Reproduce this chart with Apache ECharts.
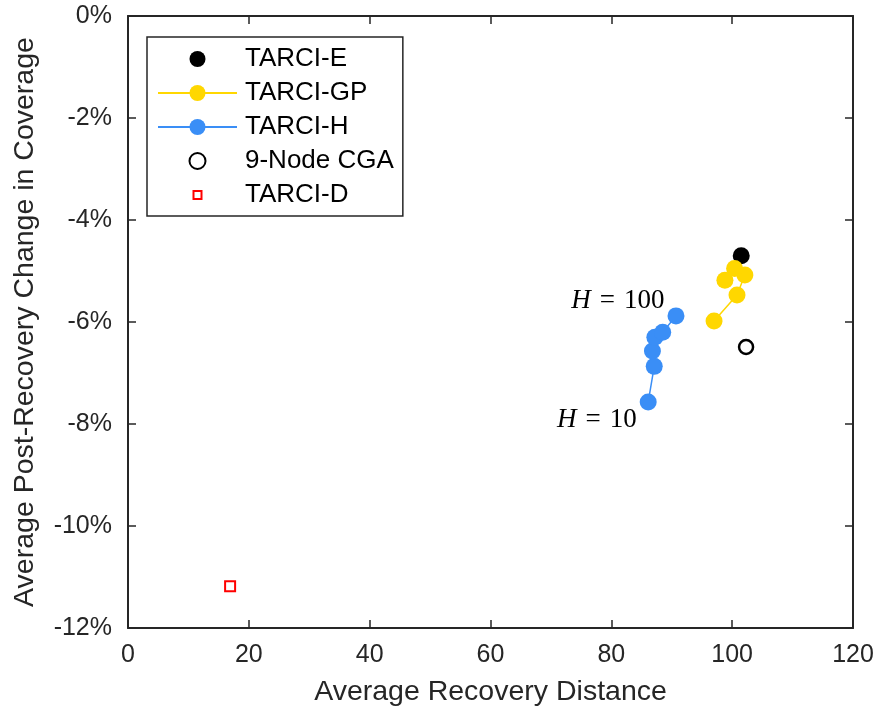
<!DOCTYPE html>
<html>
<head>
<meta charset="utf-8">
<script src="https://cdn.jsdelivr.net/npm/echarts@6/dist/echarts.min.js"></script>
<style>
  html, body { margin: 0; padding: 0; background: #fff; }
  #chart { width: 878px; height: 713px; }
</style>
</head>
<body>
<div id="chart"></div>
<script>
// points are [recovery distance, coverage change %]
const tarciE = [[101.5, -4.7]]
const tarciGP = [[97.0, -5.98], [100.8, -5.47], [102.1, -5.08], [100.4, -4.95], [98.8, -5.18]]
const tarciH = [[86.1, -7.57], [87.1, -6.87], [86.8, -6.57], [87.2, -6.3], [88.5, -6.2], [90.7, -5.88]]
const cga9 = [[102.3, -6.49]]
const tarciD = [[16.9, -11.18]]

const xTicks = { min: 0, max: 120, interval: 20 }
const yTicks = { min: -12, max: 0, interval: 2 }

const ink = '#262626'
const font = 'Liberation Sans'

const chart = echarts.init(document.getElementById('chart'))

const boxAxis = (extra) => Object.assign({
  type: 'value',
  axisLine: { show: true, onZero: false, lineStyle: { color: ink, width: 2 } },
  axisTick: { show: true, inside: true, length: 8, lineStyle: { color: ink, width: 1.5 } },
  splitLine: { show: false },
  axisLabel: { show: false }
}, extra)

const hLabel = (txt, dy) => ({
  show: true,
  position: 'left',
  distance: 3,
  offset: [0, dy],
  formatter: '{i|H}{n|\u2004=\u2004' + txt + '}',
  rich: {
    i: { fontFamily: 'Liberation Serif', fontStyle: 'italic', fontSize: 27, color: '#000' },
    n: { fontFamily: 'Liberation Serif', fontSize: 27, color: '#000' }
  }
})

const hData = tarciH.map((p, i) => {
  if (i === 0) return { value: p, label: hLabel('10', 18) }
  if (i === tarciH.length - 1) return { value: p, label: hLabel('100', -15) }
  return { value: p }
})

const noLine = { width: 0, opacity: 0 }

chart.setOption({
  animation: false,
  textStyle: { fontFamily: font },
  grid: { left: 128, right: 25, top: 16, bottom: 85 },
  legend: {
    orient: 'vertical',
    left: 147,
    top: 37,
    padding: [9, 9, 8, 10],
    itemWidth: 79,
    itemHeight: 20,
    itemGap: 8,
    borderColor: ink,
    borderWidth: 1.5,
    textStyle: { fontSize: 26, color: '#000', fontFamily: font, padding: [0, 0, 0, 3] },
    data: ['TARCI-E', 'TARCI-GP', 'TARCI-H', '9-Node CGA', 'TARCI-D']
  },
  xAxis: [
    boxAxis(Object.assign({
      position: 'bottom',
      name: 'Average Recovery Distance',
      nameLocation: 'middle',
      nameGap: 50,
      nameTextStyle: { fontSize: 28.5, color: ink, fontFamily: font },
      axisLabel: { show: true, fontSize: 25, color: ink, margin: 15, fontFamily: font }
    }, xTicks)),
    boxAxis(Object.assign({ position: 'top' }, xTicks))
  ],
  yAxis: [
    boxAxis(Object.assign({
      position: 'left',
      name: 'Average Post-Recovery Change in Coverage',
      nameLocation: 'middle',
      nameGap: 88,
      nameTextStyle: { fontSize: 28.5, color: ink, fontFamily: font },
      axisLabel: { show: true, fontSize: 25, color: ink, margin: 16, fontFamily: font, formatter: v => v + '%' }
    }, yTicks)),
    boxAxis(Object.assign({ position: 'right' }, yTicks))
  ],
  series: [
    {
      name: 'TARCI-E',
      type: 'line',
      data: tarciE,
      symbol: 'circle',
      symbolSize: 17,
      itemStyle: { color: '#000' },
      lineStyle: noLine
    },
    {
      name: 'TARCI-GP',
      type: 'line',
      data: tarciGP,
      symbol: 'circle',
      symbolSize: 17,
      itemStyle: { color: '#FFD700' },
      lineStyle: { color: '#FFD700', width: 1.5 }
    },
    {
      name: 'TARCI-H',
      type: 'line',
      data: hData,
      symbol: 'circle',
      symbolSize: 17,
      itemStyle: { color: '#3A8EF6' },
      lineStyle: { color: '#3A8EF6', width: 1.5 }
    },
    {
      name: '9-Node CGA',
      type: 'line',
      data: cga9,
      symbol: 'circle',
      symbolSize: 14,
      itemStyle: { color: '#fff', borderColor: '#000', borderWidth: 2.5 },
      lineStyle: noLine
    },
    {
      name: 'TARCI-D',
      type: 'line',
      data: tarciD,
      // padded square so the legend icon stays small
      symbol: 'path://M0,0M20,20M5,5H15V15H5Z',
      symbolSize: 20,
      symbolKeepAspect: true,
      itemStyle: { color: '#fff', borderColor: '#ff0000', borderWidth: 2 },
      lineStyle: noLine
    }
  ]
})
</script>
</body>
</html>
